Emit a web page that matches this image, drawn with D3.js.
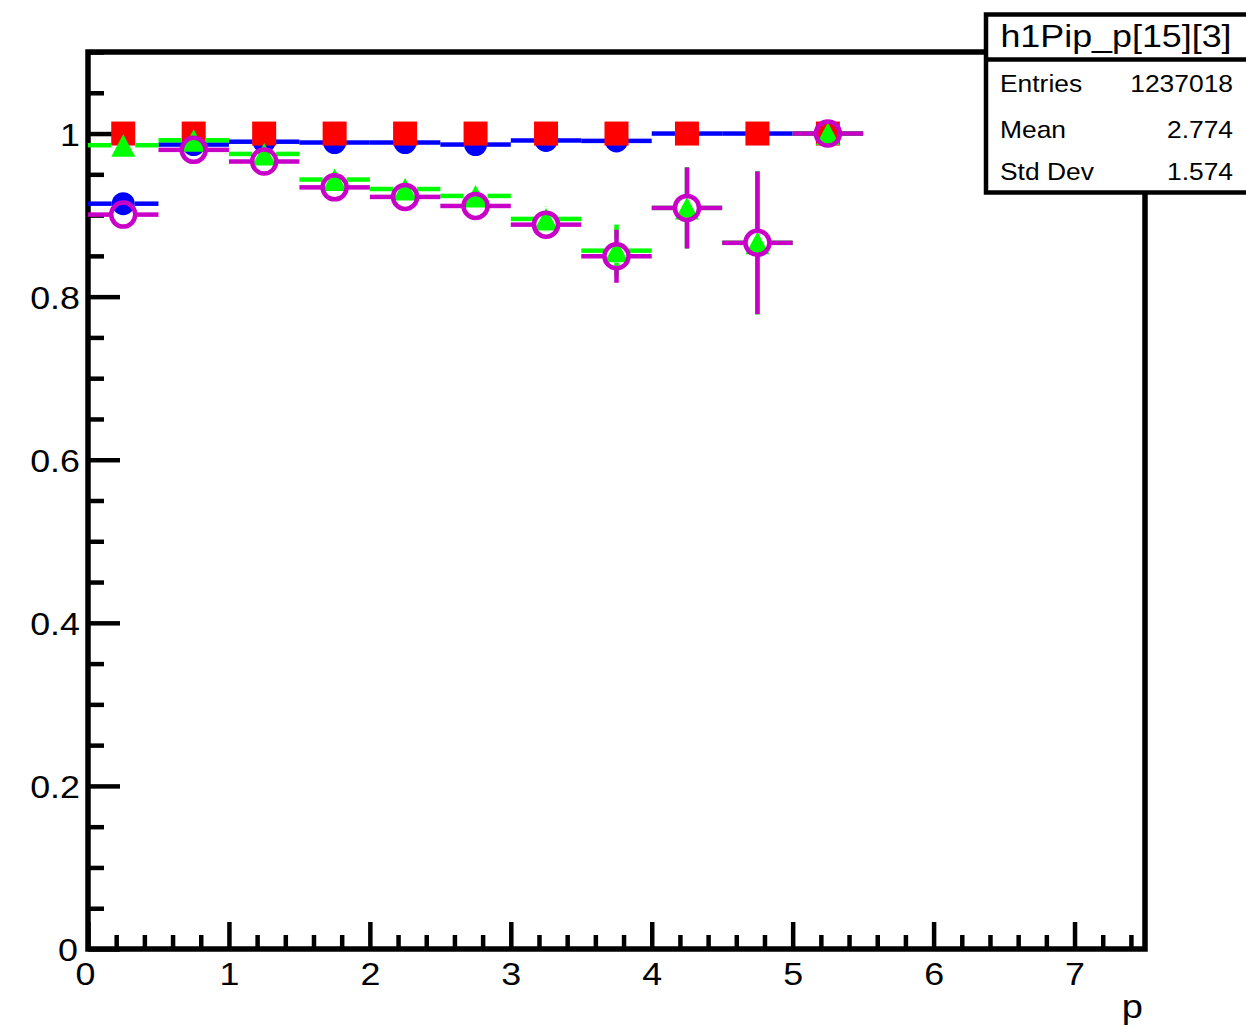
<!DOCTYPE html>
<html><head><meta charset="utf-8">
<script src="https://cdn.jsdelivr.net/npm/d3@7"></script>
<style>
body{margin:0;background:#fff}
text{font-family:"Liberation Sans",Arial,Helvetica,sans-serif;fill:#000}
</style>
</head><body>
<svg id="c" width="1246" height="1027"></svg>
<script>
// ---- data ----
const binCenters = [0.25,0.75,1.25,1.75,2.25,2.75,3.25,3.75,4.25,4.75,5.25];
const binHalfWidth = 0.25;
const redValues = [1,1,1,1,1,1,1,1,1,1,1];
const blueValues = [0.914,0.9865,0.990,0.989,0.989,0.9865,0.9915,0.991,1.0,1.0,1.0];
const blueErrors = [0.003,0.002,0.002,0.002,0.002,0.002,0.003,0.004,0.004,0.005,0.005];
const greenValues = [0.9857,0.9918,0.975,0.9436,0.932,0.9235,0.8953,0.8564,0.9088,0.866,1.0];
const greenErrors = [0.004,0.003,0.005,0.006,0.008,0.010,0.015,0.032,0.05,0.088,0.012];
const magentaValues = [0.9006,0.980,0.9657,0.934,0.9223,0.9112,0.8883,0.8495,0.9088,0.866,1.0];
const magentaErrors = [0.004,0.003,0.005,0.006,0.008,0.010,0.013,0.0325,0.0497,0.0875,0.012];
const xTickValues = [0,1,2,3,4,5,6,7];
const yTickValues = [0,0.2,0.4,0.6,0.8,1];
const yTickLabels = ["0","0.2","0.4","0.6","0.8","1"];
const xTitle = "p";
const statsTitle = "h1Pip_p[15][3]";
const statsLabels = ["Entries","Mean","Std Dev"];
const statsValues = ["1237018","2.774","1.574"];

// ---- layout ----
const svg = d3.select("#c");
const L = 88, R = 1145, T = 52, B = 949;
const x = d3.scaleLinear().domain([0,7.5]).range([L,R]);
const y = d3.scaleLinear().domain([0,1.1]).range([B,T]);
const SX = 1.12;

svg.append("rect").attr("width",1246).attr("height",1027).attr("fill","#fff");

// axes: minor ticks
const xMinor = d3.range(0,7.5001,0.2).filter(v=>Math.abs(v-Math.round(v))>1e-6);
svg.append("g").attr("transform",`translate(0,${B})`)
  .call(d3.axisBottom(x).tickValues(xMinor).tickSize(-14).tickFormat(""))
  .call(g=>g.select(".domain").remove())
  .call(g=>g.selectAll("line").attr("stroke","#000").attr("stroke-width",4.5));
const yMinor = d3.range(0,1.1001,0.05).filter(v=>Math.abs(v*5-Math.round(v*5))>1e-6);
svg.append("g").attr("transform",`translate(${L},0)`)
  .call(d3.axisLeft(y).tickValues(yMinor).tickSize(-16).tickFormat(""))
  .call(g=>g.select(".domain").remove())
  .call(g=>g.selectAll("line").attr("stroke","#000").attr("stroke-width",4.5));

// major ticks with labels
const gx = svg.append("g").attr("transform",`translate(0,${B})`)
  .call(d3.axisBottom(x).tickValues(xTickValues).tickSize(-27).tickFormat(d3.format("d")))
  .call(g=>g.select(".domain").remove());
gx.selectAll("line").attr("stroke","#000").attr("stroke-width",4.5);
gx.selectAll("text").attr("y",null).attr("dy",null)
  .attr("transform",d=>`translate(${d===0?-3:0},36) scale(${SX},1)`)
  .style("font-size","32px").attr("fill","#000");

const gy = svg.append("g").attr("transform",`translate(${L},0)`)
  .call(d3.axisLeft(y).tickValues(yTickValues).tickSize(-32).tickFormat((d,i)=>yTickLabels[i]))
  .call(g=>g.select(".domain").remove());
gy.selectAll("line").attr("stroke","#000").attr("stroke-width",4.5);
gy.selectAll("text").attr("x",null).attr("dy",null)
  .attr("transform",d=>`translate(${d===0?-10:-8},11.5) scale(${SX},1)`)
  .attr("text-anchor","end")
  .style("font-size","32px").attr("fill","#000");

// frame
svg.append("rect").attr("x",L).attr("y",T).attr("width",R-L).attr("height",B-T)
  .attr("fill","none").attr("stroke","#000").attr("stroke-width",5.5);

// x title
svg.append("text").attr("transform",`translate(${R-2},1018) scale(${SX},1)`)
  .attr("text-anchor","end").style("font-size","34px").text(xTitle);

// ---- series ----
const plot = svg.append("g");
function errorBars(values, errors, color, gap){
  const g = plot.append("g").attr("stroke",color).attr("stroke-width",4.5).attr("fill","none");
  binCenters.forEach((c,i)=>{
    const cx = x(c), cy = y(values[i]);
    const x0 = x(c-binHalfWidth), x1 = x(c+binHalfWidth);
    g.append("line").attr("x1",x0).attr("x2",cx-gap).attr("y1",cy).attr("y2",cy);
    g.append("line").attr("x1",cx+gap).attr("x2",x1).attr("y1",cy).attr("y2",cy);
    const yt = y(values[i]+errors[i]), yb = y(values[i]-errors[i]);
    if (yt < cy-gap) g.append("line").attr("x1",cx).attr("x2",cx).attr("y1",yt).attr("y2",cy-gap);
    if (yb > cy+gap) g.append("line").attr("x1",cx).attr("x2",cx).attr("y1",cy+gap).attr("y2",yb);
  });
}
// blue
errorBars(blueValues, blueErrors, "#0000ff", 11.5);
plot.append("g").selectAll("circle").data(binCenters).join("circle")
  .attr("cx",d=>x(d)).attr("cy",(d,i)=>y(blueValues[i])).attr("r",11.5).attr("fill","#0000ff");
// red squares
plot.append("g").selectAll("rect").data(binCenters).join("rect")
  .attr("x",d=>x(d)-12).attr("y",(d,i)=>y(redValues[i])-12).attr("width",24).attr("height",24)
  .attr("fill","#ff0000");
// green
errorBars(greenValues, greenErrors, "#00ff00", 12);
plot.append("g").selectAll("path").data(binCenters).join("path")
  .attr("d","M0,-11L12,11.5L-12,11.5Z")
  .attr("transform",(d,i)=>`translate(${x(d)},${y(greenValues[i])})`)
  .attr("fill","#00ff00");
// magenta
errorBars(magentaValues, magentaErrors, "#c800c8", 13);
plot.append("g").selectAll("circle").data(binCenters).join("circle")
  .attr("cx",d=>x(d)).attr("cy",(d,i)=>y(magentaValues[i])).attr("r",12)
  .attr("fill","none").attr("stroke","#c800c8").attr("stroke-width",4.5);

// ---- stats box ----
const sb = svg.append("g");
sb.append("rect").attr("x",986).attr("y",14.5).attr("width",270).attr("height",178)
  .attr("fill","#fff").attr("stroke","#000").attr("stroke-width",4.5);
sb.append("line").attr("x1",986).attr("x2",1256).attr("y1",59.5).attr("y2",59.5)
  .attr("stroke","#000").attr("stroke-width",4.5);
sb.append("text").attr("transform",`translate(1116,47) scale(${SX},1)`).attr("text-anchor","middle")
  .style("font-size","32px").text(statsTitle);
const rowY = [92,138,180];
statsLabels.forEach((t,i)=>{
  sb.append("text").attr("transform",`translate(1000,${rowY[i]}) scale(1.1,1)`)
    .style("font-size","24px").text(t);
  sb.append("text").attr("transform",`translate(1233,${rowY[i]}) scale(1.1,1)`).attr("text-anchor","end")
    .style("font-size","24px").text(statsValues[i]);
});
</script>
</body></html>
